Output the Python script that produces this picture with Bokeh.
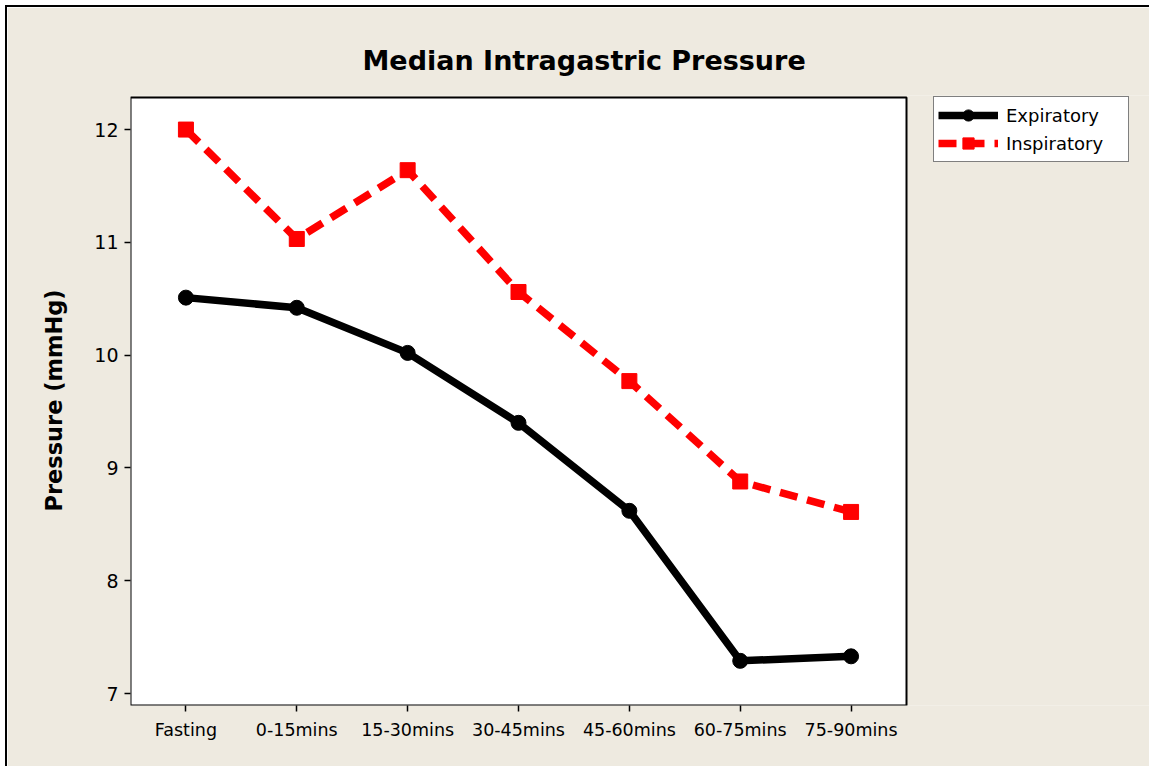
from bokeh.plotting import figure
from bokeh.models import Range1d, Legend, LegendItem, FixedTicker, BoxAnnotation
from bokeh.embed import file_html
from bokeh.resources import INLINE

categories = ["Fasting", "0-15mins", "15-30mins", "30-45mins", "45-60mins", "60-75mins", "75-90mins"]
expiratory = [10.51, 10.42, 10.02, 9.40, 8.62, 7.29, 7.33]
inspiratory = [12.00, 11.03, 11.64, 10.56, 9.77, 8.88, 8.61]
y_ticks = [7, 8, 9, 10, 11, 12]

FONT = "DejaVu Sans"
BG = "#EEEAE0"

x_pos = list(range(len(categories)))
x_first, x_last = -0.5, len(categories) - 0.5   # plot-area limits (category slots)
y_top = 12.284                                    # plot-area top

p = figure(
    width=1144, height=761,
    x_range=Range1d(x_first, 8.71),
    y_range=Range1d(6.894, 12.302),
    output_backend="svg", toolbar_location=None,
    background_fill_color=BG, border_fill_color=BG,
    min_border_left=123, min_border_top=88, min_border_right=0, min_border_bottom=63,
    title="Median Intragastric Pressure",
)
p.styles = {"border-left": "2px solid black", "border-top": "2px solid black",
            "margin-left": "5px", "margin-top": "5px"}

# white plot area with black outline
p.add_layout(BoxAnnotation(left=x_first, right=x_last, top=y_top, fill_color="white", fill_alpha=1,
                           line_color="black", line_alpha=1, line_width=2, level="underlay"))

p.title.text_font = FONT
p.title.text_font_size = "27px"
p.title.text_font_style = "bold"
p.title.text_color = "black"
p.title.align = "left"
p.title.offset = 232
p.title.standoff = 40

p.grid.visible = False
p.outline_line_color = None

for ax in (p.xaxis[0], p.yaxis[0]):
    ax.axis_line_color = "black"
    ax.axis_line_width = 1.5
    ax.major_tick_line_color = "black"
    ax.major_tick_line_width = 1.5
    ax.major_tick_out = 6
    ax.major_tick_in = 0
    ax.minor_tick_line_color = None
    ax.major_label_text_font = FONT
    ax.major_label_text_color = "black"

p.xaxis.axis_line_color = None
p.xaxis.ticker = FixedTicker(ticks=x_pos)
p.xaxis.major_label_overrides = {i: c for i, c in enumerate(categories)}
p.xaxis.major_label_text_font_size = "17.5px"
p.xaxis.major_label_standoff = 8
p.yaxis.axis_line_color = None
p.yaxis.ticker = FixedTicker(ticks=y_ticks)
p.yaxis.major_label_text_font_size = "19px"
p.yaxis.major_label_standoff = 6
p.yaxis.axis_label = "Pressure (mmHg)"
p.yaxis.axis_label_text_font = FONT
p.yaxis.axis_label_text_font_size = "22.5px"
p.yaxis.axis_label_text_font_style = "bold"
p.yaxis.axis_label_text_color = "black"
p.yaxis.axis_label_standoff = 24

l1 = p.line(x_pos, expiratory, line_color="black", line_width=7.5)
s1 = p.scatter(x_pos, expiratory, marker="circle", size=15, color="black")
l2 = p.line(x_pos, inspiratory, line_color="red", line_width=7.5, line_dash="18 10")
s2 = p.scatter(x_pos, inspiratory, marker="square", size=15, color="red")

legend = Legend(
    items=[LegendItem(label="Expiratory", renderers=[l1, s1]),
           LegendItem(label="Inspiratory", renderers=[l2, s2])],
    location=(803, 543),
    border_line_color="black", border_line_width=1.5,
    background_fill_color="white", background_fill_alpha=1,
    label_text_font=FONT, label_text_font_size="18px", label_text_color="black",
    glyph_width=60, glyph_height=28, label_height=28, label_width=118, label_standoff=8,
    spacing=0, padding=4, margin=0,
)
p.add_layout(legend)

open("out.html", "w").write(file_html(p, INLINE))
